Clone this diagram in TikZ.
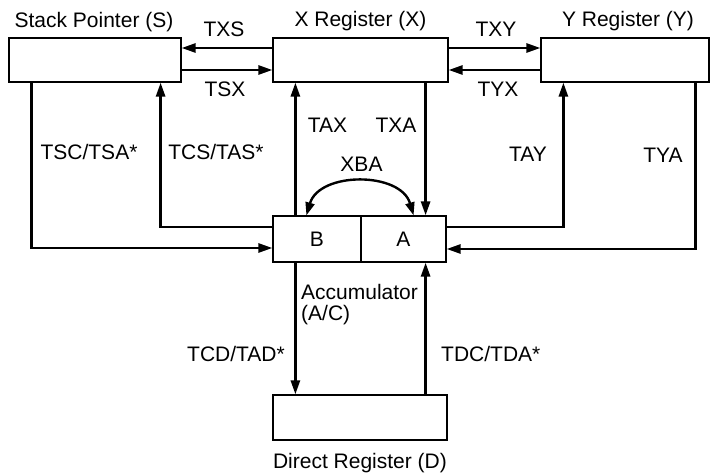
\documentclass[tikz,border=0pt]{standalone}
\usepackage{fontspec}
\setmainfont{Liberation Sans}
\usetikzlibrary{arrows.meta}
\begin{document}
\begin{tikzpicture}[x=1pt,y=-1pt,
  box/.style={draw,line width=1.2pt,inner sep=0pt},
  lbl/.style={inner sep=0pt,font=\fontsize{21}{21}\selectfont},
  arr/.style={line width=2.6pt,-{Triangle[length=14pt,width=9pt]}},
  dblarr/.style={line width=2.4pt,{Triangle[length=13pt,width=9pt]}-{Triangle[length=13pt,width=9pt]}}]
\useasboundingbox (0,0) rectangle (710,473);
% boxes
\node[box,minimum width=172pt,minimum height=44pt] (S) at (95,60) {};
\node[box,minimum width=175pt,minimum height=44pt] (X) at (360.5,60) {};
\node[box,minimum width=168pt,minimum height=44pt] (Y) at (625,60) {};
\node[box,lbl,minimum width=88pt,minimum height=46pt] (B) at (317,239) {B};
\node[box,lbl,minimum width=85pt,minimum height=46pt] (A) at (403.5,239) {A};
\node[box,minimum width=174pt,minimum height=45pt] (D) at (360,417.5) {};
% titles
\node[lbl,anchor=base] (tS) at (94,28) {Stack Pointer (S)};
\node[lbl,anchor=base] (tX) at (360.5,27) {X Register (X)};
\node[lbl,anchor=base] (tY) at (628,27) {Y Register (Y)};
\node[lbl,anchor=base] (tD) at (360,468) {Direct Register (D)};
\node[lbl,anchor=north west,align=left,font=\fontsize{21}{21}\selectfont] (acc) at (301,284.5) {Accumulator\\(A/C)};
% connector labels
\node[lbl,anchor=base] (lTXS) at (224,37) {TXS};
\node[lbl,anchor=base] (lTSX) at (225,97) {TSX};
\node[lbl,anchor=base] (lTXY) at (496,37) {TXY};
\node[lbl,anchor=base] (lTYX) at (498,97) {TYX};
\node[lbl,anchor=base] (lTSC) at (89,160) {TSC/TSA*};
\node[lbl,anchor=base] (lTCS) at (216,160) {TCS/TAS*};
\node[lbl,anchor=base] (lTAX) at (327.5,133) {TAX};
\node[lbl,anchor=base] (lTXA) at (396,133) {TXA};
\node[lbl,anchor=base] (lXBA) at (361.5,172) {XBA};
\node[lbl,anchor=base] (lTAY) at (528,162) {TAY};
\node[lbl,anchor=base] (lTYA) at (663,163) {TYA};
\node[lbl,anchor=base east] (lTCD) at (285,361) {TCD/TAD*};
\node[lbl,anchor=base west] (lTDC) at (441,361) {TDC/TDA*};
% horizontal transfers
\draw[arr] ([yshift=12pt]X.west) -- ([yshift=12pt]S.east);
\draw[arr] ([yshift=-10pt]S.east) -- ([yshift=-10pt]X.west);
\draw[arr] ([yshift=12pt]X.east) -- ([yshift=12pt]Y.west);
\draw[arr] ([yshift=-10pt]Y.west) -- ([yshift=-10pt]X.east);
% stack pointer <-> accumulator
\draw[arr] ([xshift=23pt]S.south west) |- ([yshift=-9pt]B.west);
\draw[arr] ([yshift=12pt]B.west) -| ([xshift=-21pt]S.south east);
% X <-> accumulator
\draw[arr] ([xshift=23pt]B.north west) -- ([xshift=23pt]B.north west |- X.south);
\draw[arr] ([xshift=-21pt]A.north east |- X.south) -- ([xshift=-21pt]A.north east);
% Y <-> accumulator
\draw[arr] ([yshift=12pt]A.east) -| ([xshift=23pt]Y.south west);
\draw[arr] ([xshift=-14pt]Y.south east) |- ([yshift=-10pt]A.east);
% D <-> accumulator
\draw[arr] ([xshift=23pt]B.south west) -- ([xshift=23pt]B.south west |- D.north);
\draw[arr] ([xshift=-21pt]A.south east |- D.north) -- ([xshift=-21pt]A.south east);
% XBA exchange
\draw[dblarr] ([xshift=34pt]B.north west) .. controls +(13,-44) and +(-13,-44) .. ([xshift=-33pt]A.north east);
\end{tikzpicture}
\end{document}
